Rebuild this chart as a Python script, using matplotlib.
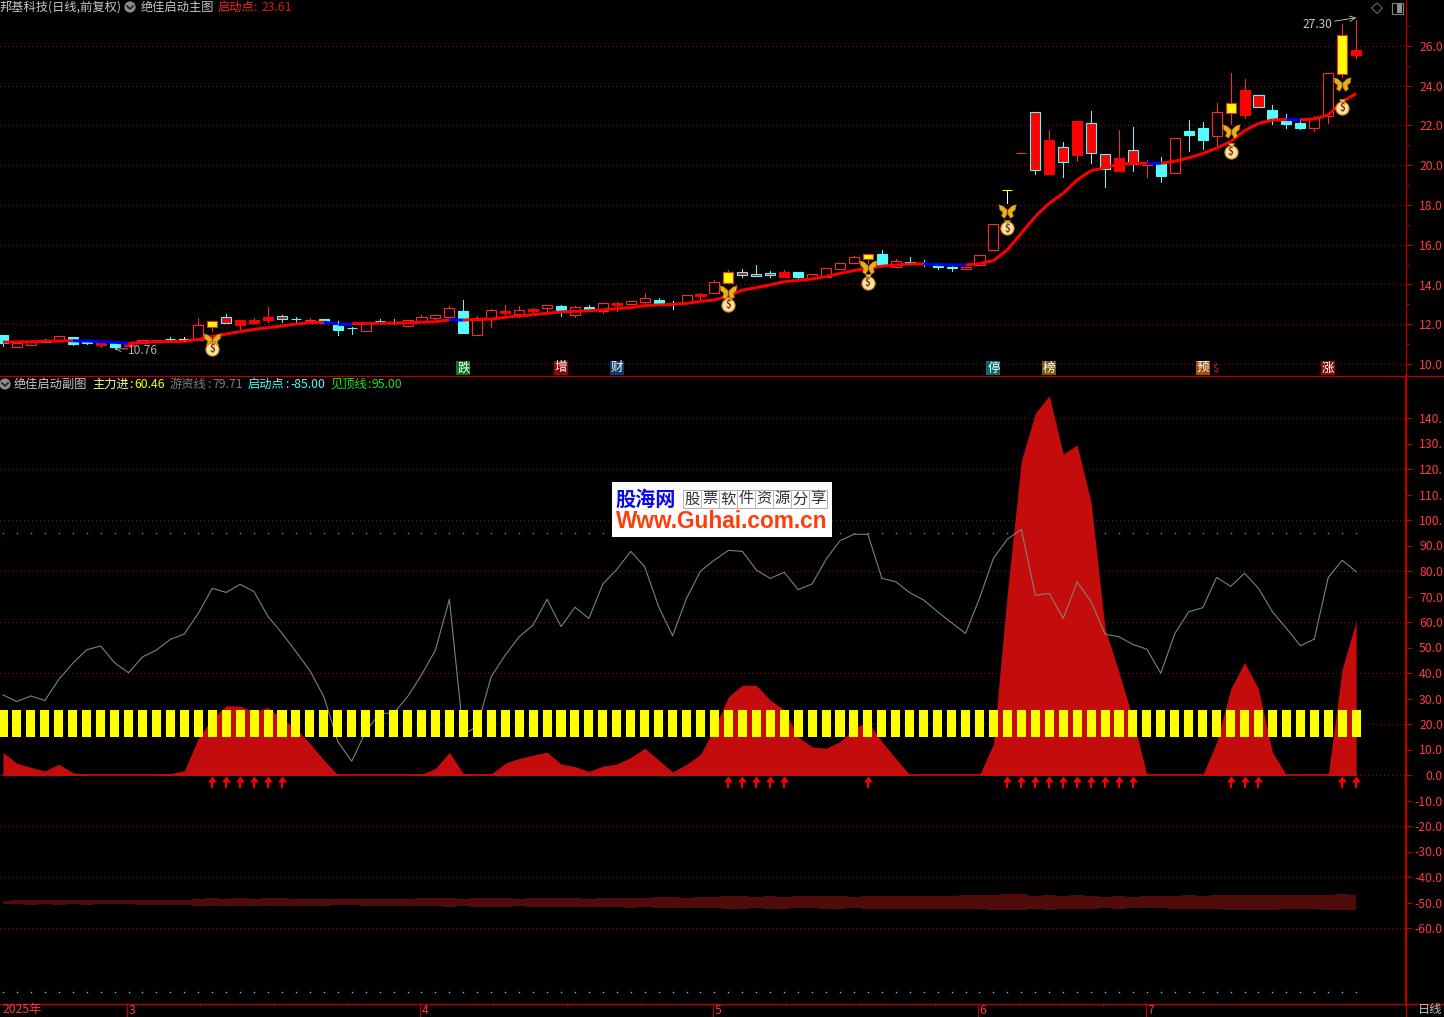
import numpy as np
import matplotlib
matplotlib.use('Agg')
import matplotlib.pyplot as plt
from matplotlib.patches import Circle, Rectangle, Polygon
from matplotlib.path import Path

plt.rcParams['font.family'] = ['Noto Sans CJK SC', 'DejaVu Sans']

# ---- price panel data ----
body_top = [11.46,11.06,11.09,11.14,11.41,11.36,11.12,11.04,11.04,11.00,11.19,11.19,11.25,11.24,11.95,12.16,12.35,12.20,12.21,12.35,
            12.42,12.27,12.20,12.26,11.98,11.82,12.05,12.16,12.10,12.20,12.35,12.45,12.80,12.67,12.20,12.72,12.67,12.70,12.77,12.95,
            12.92,12.85,12.87,13.05,13.07,13.15,13.30,13.22,13.04,13.46,13.52,14.11,14.63,14.63,14.53,14.56,14.63,14.63,14.51,14.82,
            15.07,15.39,15.54,15.54,15.17,15.13,15.07,15.03,14.90,14.86,15.48,17.03,18.74,20.60,22.68,21.28,20.92,22.23,22.13,20.57,
            20.37,20.77,20.10,20.07,21.36,21.73,21.88,22.67,23.12,23.79,23.54,22.77,22.27,22.13,22.40,24.63,26.56,25.81]
body_bottom = [11.04,10.87,10.97,11.12,11.16,11.01,11.04,10.94,10.84,10.92,11.07,11.09,11.24,11.23,11.21,11.88,12.05,11.98,12.05,12.23,
               12.28,12.25,12.16,12.08,11.73,11.80,11.68,12.14,12.08,11.93,12.18,12.32,12.38,11.58,11.48,12.28,12.58,12.53,12.68,12.84,
               12.62,12.48,12.72,12.68,12.97,13.04,13.14,13.02,13.02,13.09,13.44,13.59,14.09,14.50,14.45,14.46,14.40,14.40,14.35,14.40,
               14.78,15.07,15.30,14.93,14.87,15.05,15.06,14.90,14.83,14.78,14.98,15.74,18.74,20.60,19.78,19.56,20.18,20.52,20.64,19.83,
               19.71,20.05,20.03,19.48,19.63,21.53,21.29,21.49,22.65,22.55,22.95,22.33,22.08,21.88,21.85,22.50,24.61,25.55]
high = [11.46,11.08,11.09,11.24,11.41,11.36,11.14,11.04,11.05,11.00,11.19,11.19,11.34,11.34,12.30,12.16,12.52,12.20,12.30,12.87,
        12.47,12.37,12.30,12.26,12.15,11.88,12.05,12.25,12.25,12.20,12.45,12.47,12.90,13.22,12.40,12.75,12.97,12.92,12.82,12.95,
        12.97,12.90,12.97,13.05,13.14,13.15,13.56,13.30,13.19,13.46,13.58,14.23,14.73,14.78,14.98,14.66,14.73,14.63,14.51,14.82,
        15.07,15.42,15.54,15.74,15.27,15.37,15.23,15.08,15.00,14.90,15.48,17.03,18.74,20.60,22.68,21.78,21.16,22.23,22.73,20.57,
        21.78,21.93,20.27,20.44,21.36,22.28,22.20,23.15,24.66,24.33,23.54,23.04,22.58,22.32,22.48,24.63,27.10,27.30]
low = [10.91,10.87,10.97,11.09,11.16,10.94,11.00,10.84,10.76,10.85,11.07,11.09,11.16,11.16,11.21,11.68,12.05,11.76,12.03,12.13,
       12.11,12.11,12.14,12.08,11.48,11.51,11.68,12.05,12.03,11.90,12.15,12.28,12.33,11.58,11.48,11.88,12.35,12.38,12.58,12.55,
       12.42,12.38,12.72,12.55,12.67,13.04,12.95,13.02,12.79,13.09,13.22,13.56,14.09,14.40,14.45,14.40,14.40,14.28,14.35,14.40,
       14.78,15.07,15.07,14.93,14.87,15.05,14.93,14.80,14.70,14.78,14.98,15.74,18.09,20.60,19.56,19.56,19.43,20.22,20.10,18.93,
       19.71,19.73,19.43,19.18,19.63,20.74,20.82,21.02,22.08,22.40,22.95,22.08,21.88,21.80,21.70,22.15,24.43,25.42]
# h hollow, r solid red, n red over cyan, c cyan, w white doji, y signal yellow, t T-shaped signal
candle_kind = ('chhchccrcr' 'hhcwhynrrr' 'nchccchcch' 'hhhchhrhrh' 'chchrhhcwh'
               'rhynnnrchh' 'hhychcccch' 'hhthnrnrnn' 'rnhchcchyr' 'nccchhyr')
ma_line = [11.10,11.11,11.12,11.14,11.16,11.17,11.16,11.12,11.09,11.04,11.09,11.12,11.13,11.14,11.24,11.38,11.51,11.63,11.74,11.83,
           11.91,12.01,12.08,12.10,12.03,12.03,12.04,12.05,12.06,12.07,12.10,12.13,12.22,12.21,12.25,12.26,12.35,12.42,12.48,12.55,
           12.62,12.65,12.68,12.72,12.79,12.84,12.94,12.97,13.00,13.05,13.15,13.22,13.42,13.72,13.84,13.98,14.14,14.21,14.28,14.40,
           14.56,14.70,14.82,14.92,14.98,15.03,15.04,15.00,14.99,14.98,15.05,15.20,15.74,16.58,17.42,18.09,18.59,19.26,19.73,19.88,
           20.07,20.09,20.11,20.10,20.20,20.37,20.59,20.86,21.19,21.74,22.10,22.28,22.30,22.29,22.33,22.53,23.20,23.61]
signal_bars = [15,52,62,72,88,96]
butterfly_price = [11.21,13.64,14.87,17.70,21.74,24.07]
bag_price = [10.80,13.02,14.14,16.88,20.73,22.95]
price_ticks = [10,12,14,16,18,20,22,24,26]
event_bars = [33,40,44,71,75,86,95]
event_labels = ['跌','增','财','停','榜','预','涨']
event_colors = ['#0a7a1e','#8a0a0a','#103a6a','#0a6a6a','#7a5a10','#a0500a','#8a0a0a']

# ---- indicator panel data ----
main_force = [8.9,4.6,3.0,1.6,4.2,0.9,0,0,0,0,0,0,0.5,1.7,14.4,22.2,27.2,27.0,24.8,26.5,
              22.0,18.3,12.4,5.9,0,0,0,0,0,0,0.2,2.6,8.9,0.6,0,0.4,4.6,6.5,7.8,9.0,
              4.3,3.3,1.4,3.5,4.3,6.9,10.5,5.9,1.2,4.2,8.1,18.3,30.7,35.2,35.2,29.4,25.5,15.0,11.0,10.5,
              13.1,18.3,20.9,13.1,6.5,0,0,0,0,0,0,12.2,71.6,123.3,141.8,148.8,125.9,129.4,106.9,57.3,
              40.3,22.0,0,0,0,0,0,12.8,33.7,44.2,33.7,8.9,0,0,0,0,41.6,60.46]
hot_money = [31.4,28.8,31.0,29.2,37.5,43.8,49.1,50.6,44.0,40.1,46.3,49.0,53.2,55.3,63.4,73.2,71.6,74.8,71.9,62.1,
             55.6,48.4,40.9,30.7,13.1,5.4,17.0,24.2,24.2,30.7,39.2,49.0,68.9,15.7,19.3,38.6,47.0,54.2,58.8,68.9,
             58.2,65.8,61.4,74.9,80.6,87.7,81.7,66.0,54.6,69.3,80.0,84.3,88.1,87.7,80.4,77.1,79.5,72.7,74.9,84.6,
             91.9,94.4,94.4,77.1,75.8,71.5,68.6,64.0,59.7,55.5,69.3,85.0,92.5,96.3,70.5,71.2,61.4,75.8,68.0,55.2,
             54.2,51.2,49.3,39.9,55.5,64.0,65.6,77.5,74.0,79.1,73.2,64.0,57.5,50.7,53.3,77.5,84.2,79.71]
band_top = [-49.4,-49,-49,-49,-49,-49,-49,-49,-49,-49,-49,-49,-49,-49,-48.6,-48.2,-48.6,-48.2,-48.6,-48.2,
            -48.2,-48.6,-48.6,-48.6,-48.6,-48.6,-48.6,-48.6,-48.6,-48.6,-48.2,-48.2,-48.2,-48.6,-48.2,-48.2,-48.2,-48.6,-48.2,-48.2,
            -48.2,-48.2,-48.6,-48.2,-48.2,-48.2,-48.2,-47.8,-47.8,-48.2,-47.8,-47.8,-47.45,-47.45,-47.8,-47.45,-47.8,-47.45,-47.45,-47.45,
            -47.45,-47.8,-47.45,-47.45,-47.45,-47.45,-47.45,-47.45,-47.45,-47.06,-47.06,-47.06,-46.7,-46.7,-47.45,-47.06,-47.45,-47.06,-47.45,-47.84,
            -47.45,-47.84,-47.45,-47.45,-47.45,-47.06,-47.45,-47.06,-47.06,-47.06,-47.06,-47.06,-47.06,-47.06,-47.06,-47.06,-46.7,-47.06]
band_bottom = [-50.6,-50.6,-51,-50.6,-51,-50.6,-51,-50.6,-50.6,-50.6,-51,-51,-51,-51,-51.4,-51.4,-51.4,-51.4,-51.4,-51.4,
               -51.4,-51.4,-51.4,-51.4,-51,-51,-51.4,-51.4,-51.4,-51.4,-51.4,-51.4,-51.8,-51.4,-51.8,-51.8,-51.8,-51.4,-51.8,-51.8,
               -51.8,-51.8,-51.8,-51.8,-51.8,-52.16,-51.8,-52.16,-52.16,-52.16,-52.16,-52.16,-52.55,-52.55,-52.16,-52.55,-52.55,-52.16,-52.16,-52.55,
               -52.55,-52.16,-52.55,-52.55,-52.55,-52.55,-52.55,-52.55,-52.55,-52.55,-52.55,-52.94,-52.94,-52.94,-52.55,-52.94,-52.55,-52.55,-52.55,-52.16,
               -52.55,-52.16,-52.16,-52.16,-52.55,-52.55,-52.55,-52.55,-52.94,-52.94,-52.94,-52.94,-52.55,-52.55,-52.55,-52.94,-52.94,-52.94]
arrow_bars = [15,16,17,18,19,20,52,53,54,55,56,62,72,73,74,75,76,77,78,79,80,81,88,89,90,96,97]
stick_low = 15
stick_high = 25.5
top_line = 95
start_line = -85
ind_ticks = [140,130,120,110,100,90,80,70,60,50,40,30,20,10,0,-10,-20,-30,-40,-50,-60]
ind_grid = [140,120,100,80,60,40,20,0,-20,-40,-60]

# ---- time axis ----
month_pos = [8.9,29.9,50.9,69.9,81.9]
month_labels = ['3','4','5','6','7']
week_pos = [14.1,19.4,24.7,35.1,40.4,45.7,56.1,61.4,66.8,72.9,75.9,78.85]

RED = '#ff2828'
CYAN = '#54fcfc'
AXIS = '#b80000'
LABEL = '#ff3c3c'
px = 0.72

fig = plt.figure(figsize=(14.44, 10.17), dpi=100, facecolor='black')
W, H = 1444.0, 1017.0
def box(l, t, r, b):
    return [l/W, 1-b/H, (r-l)/W, (b-t)/H]

bars = np.arange(len(body_top))
xlim = (-3/13.95, (1406-3)/13.95)

ax1 = fig.add_axes(box(0, 0, 1406, 375), facecolor='black')
ax2 = fig.add_axes(box(0, 376, 1406, 1003), facecolor='black')
ax3 = fig.add_axes(box(0, 1003, 1406, 1017), facecolor='black')
ui = fig.add_axes([0, 0, 1, 1], facecolor='none')
ui.set_xlim(0, W)
ui.set_ylim(H, 0)
ui.axis('off')

dots = (0, (1, 3))

# price panel
ax1.set_xlim(*xlim)
ax1.set_ylim(10+(364-375)/19.875, 10+364/19.875)
for p in price_ticks:
    ax1.axhline(p, color='#b00000', lw=px, ls=dots, antialiased=False, zorder=1)

for i in bars:
    k = candle_kind[i]
    wick = {'h':RED,'r':RED,'n':CYAN,'c':CYAN,'w':'white','y':RED,'t':'white'}[k]
    face = {'h':'black','r':'#ff0000','n':'#ff0000','c':CYAN,'w':'white','y':'#ffff00','t':'#ffff00'}[k]
    edge = {'h':RED,'r':'#ff0000','n':CYAN,'c':CYAN,'w':'white','y':RED,'t':'#ffff00'}[k]
    ax1.vlines(i, low[i], high[i], color=wick, lw=px, antialiased=False, zorder=2)
    ax1.bar(i, max(body_top[i]-body_bottom[i], 0.02), bottom=body_bottom[i], width=0.72,
            facecolor=face, edgecolor=edge, lw=1.1*px, zorder=3)

# signal line, blue where it does not rise
for i in bars[1:]:
    c = '#0000ff' if ma_line[i] <= ma_line[i-1] else '#ff0000'
    ax1.plot([i-1, i], [ma_line[i-1], ma_line[i]], color=c, lw=3*px, solid_capstyle='butt', zorder=4)

# butterfly and money bag icons
left_wing = [(-0.05,0.2),(-0.5,0.62),(-1,0.78),(-0.88,0.18),(-0.55,-0.08),(-0.68,-0.55),(-0.32,-0.78),(-0.05,-0.3)]
wing_pts = left_wing + [left_wing[0]] + [(-a, b) for a, b in left_wing] + [(-left_wing[0][0], left_wing[0][1])]
wing_codes = [1]+[2]*7+[79] + [1]+[2]*7+[79]
wing = Path(wing_pts, wing_codes)
for b, yb, yg in zip(signal_bars, butterfly_price, bag_price):
    ax1.plot(b, yb, marker=wing, ms=12.5, color='#e8b018', mec='#a87008', mew=0.4, zorder=6)
    ax1.plot(b, yg+0.22, marker='v', ms=5, color='#f0d070', mec='#a87010', mew=0.5, zorder=6)
    ax1.plot(b, yg-0.05, marker='o', ms=9.5, color='#f6e4a0', mec='#c88818', mew=0.8, zorder=6)
    ax1.text(b, yg-0.07, '$', color='#902018', fontsize=7, fontweight='bold', ha='center', va='center', zorder=7)

# labels of the high and low
ax1.annotate('', xy=(97.0, 27.3+0.12), xytext=(95.45, 27.3-0.05),
             arrowprops=dict(arrowstyle='->', color='#c8c8c8', lw=0.6, shrinkA=0, shrinkB=0), zorder=5)
ui.text(1317, 25, '27.30', color='#c8c8c8', fontsize=8.6, ha='center', va='center')
ax1.annotate('', xy=(8.0, 10.76), xytext=(8.95, 10.76),
             arrowprops=dict(arrowstyle='->', color='#b0b0b0', lw=0.6, shrinkA=0, shrinkB=0), zorder=5)
ui.text(143, 350, '10.76', color='#b0b0b0', fontsize=8.6, ha='center', va='center')

for b, s, c in zip(event_bars, event_labels, event_colors):
    ax1.text(b, 9.8, s, color='white', fontsize=9, ha='center', va='center', zorder=6,
             bbox=dict(boxstyle='square,pad=0.06', facecolor=c, edgecolor='none'))
ui.text(1215, 369, '$', color='#e02020', fontsize=8, ha='center', va='center')

# indicator panel
ax2.set_xlim(*xlim)
ax2.set_ylim((775-1003)/2.55, (775-376)/2.55)
for g in ind_grid:
    ax2.axhline(g, color='#b00000', lw=px, ls=dots, antialiased=False, zorder=1)
ax2.plot(bars, [top_line]*len(bars), ls='none', marker='s', ms=1.0, mew=0, color='#00e000', zorder=1)
ax2.plot(bars, [start_line]*len(bars), ls='none', marker='s', ms=1.0, mew=0, color='#40e0e0', zorder=1)
ax2.fill_between(bars, 0, main_force, color='#c40c0c', lw=0, zorder=2)
ax2.plot(bars, [0]*len(bars), color='#d01010', lw=1.6*px, zorder=2)
ax2.plot(bars, hot_money, color='#808080', lw=1.1*px, zorder=3)
ax2.bar(bars, stick_high-stick_low, bottom=stick_low, width=0.65, color='#ffff00', lw=0, zorder=4)
ax2.fill_between(bars, band_bottom, band_top, step='mid', color='#500b0b', lw=0, zorder=2)
ax2.vlines(arrow_bars, -5.2, -2.0, color='#ff0000', lw=2*px, zorder=5)
arrow_head = Path([(-1,-0.66),(1,-0.66),(0,0.66),(-1,-0.66)], [1,2,2,79])
ax2.plot(arrow_bars, [-1.7]*len(arrow_bars), ls='none', marker=arrow_head, ms=6.5, mew=0, color='#ff0000', zorder=5)

# axes look
for ax in (ax1, ax2, ax3):
    for s in ax.spines.values():
        s.set_visible(False)
    ax.set_xticks([])
for ax in (ax1, ax2):
    ax.yaxis.tick_right()
    ax.tick_params(axis='y', which='both', colors=AXIS, labelcolor=LABEL, labelsize=8.8)
    ax.tick_params(axis='y', which='major', length=4, width=px, pad=(1443-1406)*px-4)
    ax.tick_params(axis='y', which='minor', length=2.5, width=px)
    ax.spines['right'].set_visible(True)
    ax.spines['right'].set_color(AXIS)
ax1.spines['right'].set_linewidth(1.2*px)
ax2.spines['right'].set_linewidth(2.4*px)
# the pane is narrow, only the part of each number that fits is shown
ax1.set_yticks(price_ticks)
ax1.set_yticklabels(['%.1f' % p for p in price_ticks], ha='right')
ax1.set_yticks([11,13,15,17,19,21,23,25,27], minor=True)
ax2.set_yticks(ind_ticks)
ax2.set_yticklabels(['%d.' % v if v >= 100 else '%.1f' % v for v in ind_ticks], ha='right')

# horizontal separators
ui.plot([0, W], [375.5, 375.5], color=AXIS, lw=1.2*px)
ui.plot([0, W], [1003.5, 1003.5], color=AXIS, lw=1.4*px)
ui.plot([1406, 1406], [1003, 1017], color=AXIS, lw=1.2*px)

# time axis
ax3.set_xlim(*xlim)
ax3.set_ylim(0, 14)
ax3.set_yticks([])
ax3.vlines(month_pos, 0, 14, color=AXIS, lw=px*1.2)
ax3.vlines(week_pos, 11.5, 14, color=AXIS, lw=px)
ui.text(3, 1010, '2025年', color=LABEL, fontsize=8.8, ha='left', va='center')
for m, s in zip(month_pos, month_labels):
    ax3.text(m+0.12, 6, s, color=LABEL, fontsize=8.8, ha='left', va='center')
ui.text(1430, 1010, '日线', color='#c0c0c0', fontsize=8.8, ha='center', va='center')

# header texts
def row(y, items):
    for x, s, c in items:
        ui.text(x, y, s, color=c, fontsize=8.8, ha='left', va='center')

row(7.5, [(0, '邦基科技(日线,前复权)', '#c8c8c8'), (141, '绝佳启动主图', '#c8c8c8'),
          (218, '启动点', '#ff2020'), (253, ':', '#d81818'), (262, '23.61', '#d81818')])
row(384.5, [(14, '绝佳启动副图', '#c8c8c8'), (92, '主力进', '#ffff90'), (129, ':', '#ffff00'), (134, '60.46', '#ffff00'),
            (170, '游资线', '#808080'), (207, ':', '#808080'), (212, '79.71', '#808080'),
            (248, '启动点', '#54fcfc'), (285, ':', '#54fcfc'), (290, '-85.00', '#54fcfc'),
            (330, '见顶线', '#20e020'), (367, ':', '#20e020'), (372, '95.00', '#20e020')])
for cx, cy in [(130, 7), (5, 384)]:
    ui.add_patch(Circle((cx, cy), 5.6, facecolor='#8c8c8c', edgecolor='none'))
    ui.plot([cx-3, cx, cx+3], [cy-1, cy+2, cy-1], color='#202020', lw=1.2)

# top right buttons
ui.add_patch(Polygon([(1377, 3), (1382.5, 8), (1377, 13.5), (1371.5, 8)], closed=True,
                     facecolor='none', edgecolor='#707070', lw=px))
ui.add_patch(Rectangle((1391.5, 3), 11, 11, facecolor='none', edgecolor='#808080', lw=1.2*px))
ui.add_patch(Rectangle((1397, 4), 5, 9, facecolor='#909090', edgecolor='none'))

# watermark
ui.add_patch(Rectangle((612, 482), 220, 55, facecolor='white', edgecolor='none', zorder=20))
ui.text(645.5, 499, '股海网', color='#0a0ae6', fontsize=14.5, fontweight='bold', ha='center', va='center', zorder=21)
ui.add_patch(Rectangle((683, 490), 144, 18, facecolor='white', edgecolor='#b0b0b0', lw=px, zorder=21))
for n, ch in enumerate('股票软件资源分享'):
    ui.plot([683+18*n, 683+18*n], [490, 508], color='#b8b8b8', lw=px, zorder=21)
    ui.text(692+18*n, 499, ch, color='#303030', fontsize=11, ha='center', va='center', zorder=22)
ui.text(722, 521, 'Www.Guhai.com.cn', color='#ff3c0a', fontsize=16.3, fontweight='bold',
        family='Liberation Sans', ha='center', va='center', zorder=21)

fig.savefig('out.png', dpi=100, facecolor='black')
